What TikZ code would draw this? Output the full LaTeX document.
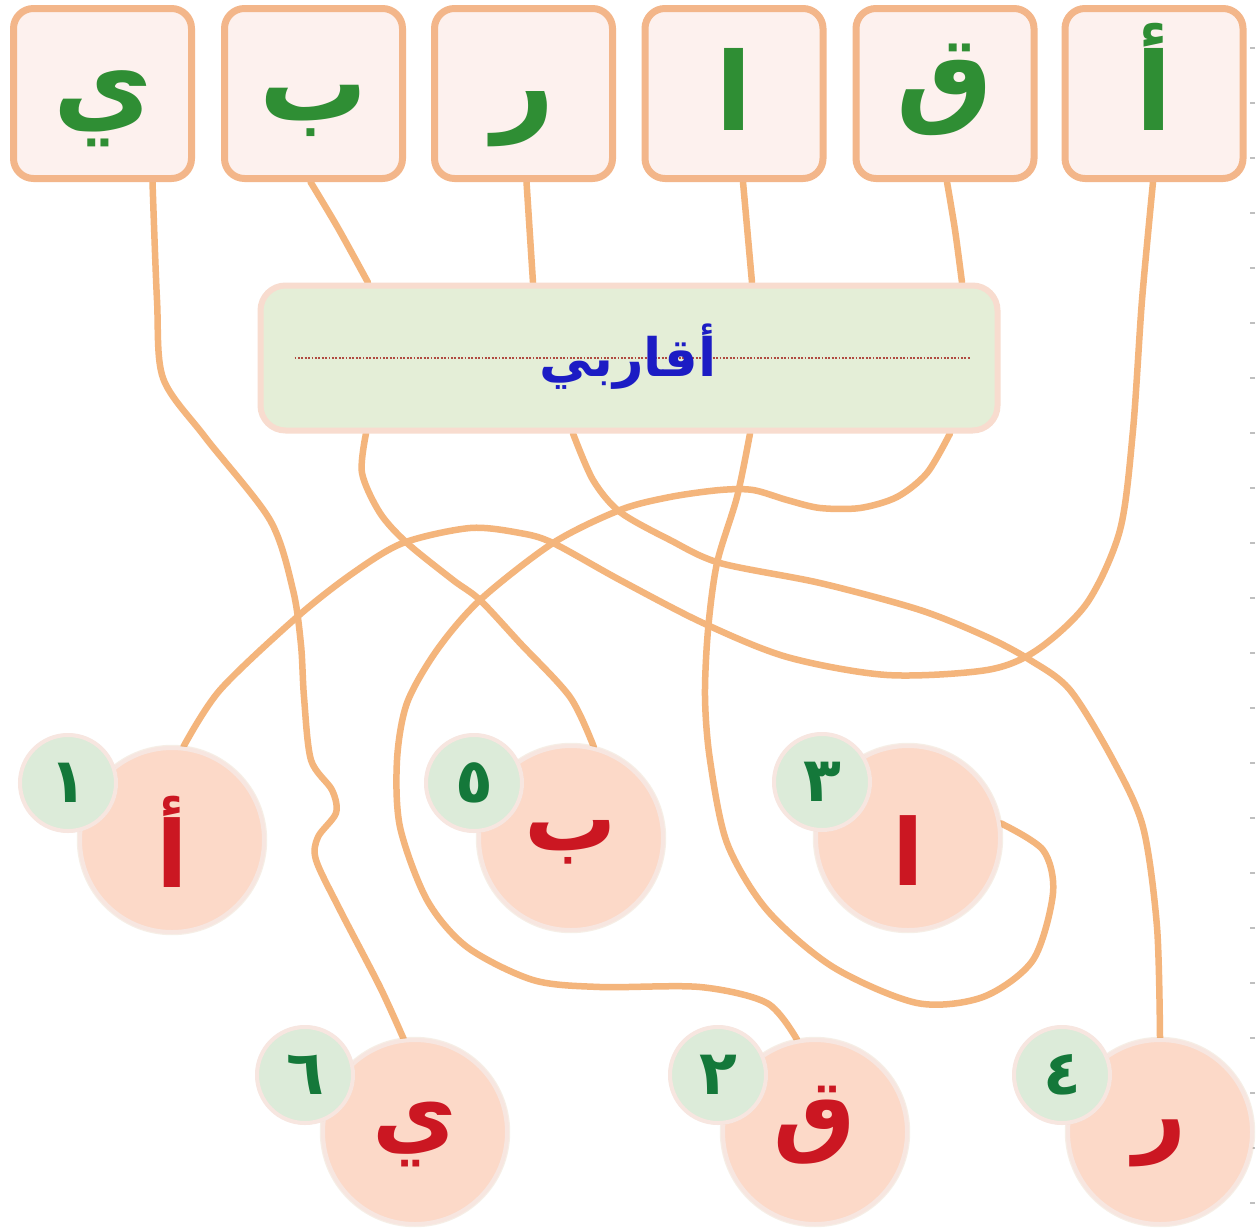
\documentclass[tikz,border=0pt]{standalone}
\usepackage{fontspec}
\TeXXeTstate=1
\newfontfamily\arabicfont[Script=Arabic]{DejaVu Sans}
\usetikzlibrary{shadows}
\pgfdeclarelayer{bg}
\pgfsetlayers{bg,main}
\definecolor{wire}{HTML}{F4B57C}
\definecolor{boxline}{HTML}{F3B68A}
\definecolor{boxfill}{HTML}{FDF1EE}
\definecolor{midfill}{HTML}{E4EED7}
\definecolor{midline}{HTML}{F8DCCF}
\definecolor{bigfill}{HTML}{FCD9C8}
\definecolor{ringcol}{HTML}{F7E6E0}
\definecolor{smallfill}{HTML}{DCEBD9}
\definecolor{topgreen}{HTML}{2F8E34}
\definecolor{numgreen}{HTML}{14783A}
\definecolor{letred}{HTML}{CB1722}
\definecolor{titleblue}{HTML}{1C1CC4}
\definecolor{dotred}{HTML}{B04A40}
\begin{document}
\begin{tikzpicture}[x=1pt,y=-1pt,
  glow/.style={drop shadow={shadow xshift=0pt, shadow yshift=0pt, shadow scale=1.035, opacity=.13, fill=brown}},
  letterbox/.style={draw=boxline, line width=7pt, fill=boxfill, rounded corners=20pt,
    minimum width=178pt, minimum height=170pt, inner sep=0pt, text=topgreen,
    font=\arabicfont\bfseries\fontsize{108}{108}\selectfont, text height=90pt, text depth=37pt},
  tallbox/.style={text height=95pt, text depth=22pt},
  bigcirc/.style={circle, draw=ringcol, line width=4pt, fill=bigfill, minimum size=184pt,
    inner sep=0pt, text=letred, glow,
    font=\arabicfont\bfseries\fontsize{92}{92}\selectfont, text height=75pt, text depth=51pt},
  tallcirc/.style={text height=110pt, text depth=16pt},
  smallcirc/.style={circle, draw=ringcol, line width=4pt, fill=smallfill, minimum size=96pt,
    inner sep=0pt, text=numgreen, glow, font=\arabicfont\bfseries\fontsize{62}{62}\selectfont},
  midbox/.style={draw=midline, line width=6pt, fill=midfill, rounded corners=25pt,
    minimum width=737pt, minimum height=145pt, inner sep=0pt},
  wirestyle/.style={draw=wire, line width=6.5pt, line cap=round, line join=round}
]
\useasboundingbox (0,0) rectangle (1257,1229);
% top letter boxes
\node[letterbox] (t1) at (102.5,93.5) {\beginR ي\endR};
\node[letterbox] (t2) at (313.5,93.5) {\beginR ب\endR};
\node[letterbox] (t3) at (523.5,93.5) {\beginR ر\endR};
\node[letterbox, tallbox] (t4) at (734,93.5) {\beginR ا\endR};
\node[letterbox, text height=80pt, text depth=43pt] (t5) at (945,93.5) {\beginR ق\endR};
\node[letterbox, tallbox] (t6) at (1154,93.5) {\beginR أ\endR};
% middle box
\node[midbox] (mid) at (629,358) {};
\draw[dotred, line width=2.2pt, dash pattern=on 1.8pt off 1.6pt]
  ([xshift=37pt]mid.west) -- ([xshift=-30pt]mid.east);
\node[text=titleblue, font=\arabicfont\bfseries\fontsize{53}{53}\selectfont, inner sep=0pt]
  (title) at (628,357) {\beginR أقاربي\endR};
% circles
\node[bigcirc, tallcirc] (cA) at (172,840) {\beginR أ\endR};
\node[smallcirc] (nA) at (68,783) {١};
\node[bigcirc] (cB) at (571,838) {\beginR ب\endR};
\node[smallcirc] (nB) at (474,783) {٥};
\node[bigcirc, tallcirc] (cL) at (908,838) {\beginR ا\endR};
\node[smallcirc] (nL) at (822,782) {٣};
\node[bigcirc] (cY) at (415,1132) {\beginR ي\endR};
\node[smallcirc] (nY) at (305,1075) {٦};
\node[bigcirc] (cQ) at (815,1132) {\beginR ق\endR};
\node[smallcirc] (nQ) at (718,1075) {٢};
\node[bigcirc] (cR) at (1160,1132) {\beginR ر\endR};
\node[smallcirc] (nR) at (1062,1075) {٤};
% connector end points
\coordinate (a0) at ([xshift=50pt]t1.south);
\coordinate (b0) at ([xshift=-3pt]t2.south);
\coordinate (b1) at ([xshift=-261pt]mid.north);
\coordinate (r0) at ([xshift=3pt]t3.south);
\coordinate (r1) at ([xshift=-96pt]mid.north);
\coordinate (l0) at ([xshift=9pt]t4.south);
\coordinate (l1) at ([xshift=123pt]mid.north);
\coordinate (q0) at ([xshift=2pt]t5.south);
\coordinate (q1) at ([xshift=333pt]mid.north);
\coordinate (h0) at ([xshift=-1pt]t6.south);
\coordinate (m1) at ([xshift=-263pt]mid.south);
\coordinate (m2) at ([xshift=-56pt]mid.south);
\coordinate (m3) at ([xshift=121pt]mid.south);
\coordinate (m4) at ([xshift=321pt]mid.south);
\begin{pgfonlayer}{bg}
\fill[white] (0,0) rectangle (1257,1229);
\foreach \k in {0,...,21} \draw[gray!50, line width=1.3pt] (1250,{48+55*\k}) -- (1255,{48+55*\k});
% top short connectors
\draw[wirestyle] plot[smooth] coordinates {(b0) (338,228) (b1)};
\draw[wirestyle] (r0) -- (r1);
\draw[wirestyle] (l0) -- (l1);
\draw[wirestyle] plot[smooth] coordinates {(q0) (955,230) (q1)};
% ya box to ya circle
\draw[wirestyle] plot[smooth] coordinates {(a0) (157,300) (163,378) (205,437) (270,520) (293,590)
  (301,645) (304,697) (311,760) (332,790) (336,813) (318,837) (316,860) (340,910) (380,987) (cY.97)};
% alif-hamza box to alif-hamza circle
\draw[wirestyle] plot[smooth] coordinates {(h0) (1142,300) (1133,430) (1120,530) (1087,603)
  (1037,650) (987,670) (887,675) (787,657) (703,623) (620,580) (553,543) (520,533) (470,528)
  (403,543) (353,573) (297,617) (220,690) (cA.83)};
% mid -> ba circle
\draw[wirestyle] plot[smooth] coordinates {(m1) (362,473) (380,513) (407,543) (453,580) (480,600)
  (520,643) (570,697) (cB.76)};
% mid -> ra circle
\draw[wirestyle] plot[smooth] coordinates {(m2) (593,480) (620,512) (670,540) (720,563) (820,583)
  (920,610) (987,637) (1030,660) (1070,690) (1113,760) (1143,827) (1157,927) (cR.90)};
% mid -> alif circle (loop)
\draw[wirestyle] plot[smooth] coordinates {(m3) (737,497) (717,563) (708,630) (705,697) (710,760)
  (727,843) (767,910) (833,967) (917,1003) (983,997) (1033,960) (1053,893) (1043,850) (cL.9)};
% mid -> qaf circle
\draw[wirestyle] plot[smooth] coordinates {(m4) (927,473) (897,497) (860,508) (820,508) (787,500)
  (753,490) (720,490) (670,497) (620,510) (553,543) (480,600) (437,650) (407,703) (397,760)
  (400,827) (427,900) (467,947) (533,980) (600,987) (700,987) (767,1003) (cQ.101)};
\end{pgfonlayer}
\end{tikzpicture}
\end{document}
